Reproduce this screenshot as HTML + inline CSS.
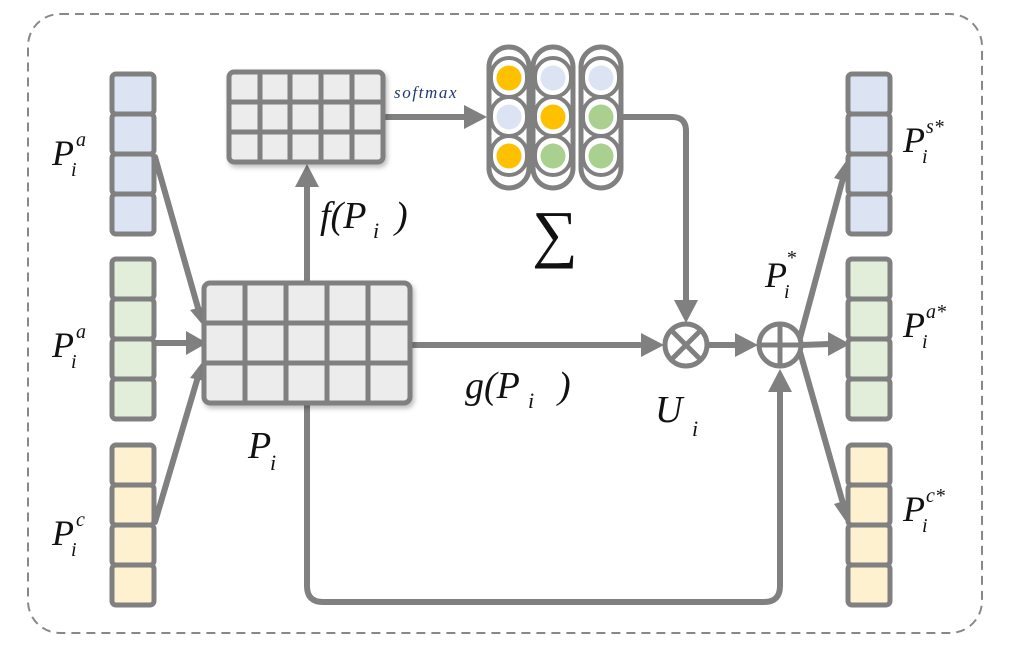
<!DOCTYPE html>
<html><head><meta charset="utf-8"><style>
html,body{margin:0;padding:0;background:#fff;}
svg{display:block}
text{font-family:"Liberation Serif",serif;font-style:italic;fill:#111}
</style></head><body>
<svg width="1022" height="650" viewBox="0 0 1022 650" xmlns="http://www.w3.org/2000/svg">
<defs>
<filter id="sh" x="-10%" y="-10%" width="130%" height="130%"><feDropShadow dx="2" dy="3" stdDeviation="2.5" flood-color="#000" flood-opacity="0.25"/></filter>
</defs>
<rect x="28" y="14" width="954" height="619" rx="32" fill="none" stroke="#888" stroke-width="2" stroke-dasharray="9,6"/>

<g stroke="#808080" stroke-width="6" fill="none" stroke-linecap="round" stroke-linejoin="round">
<line x1="155" y1="157" x2="200" y2="315"/>
<line x1="155" y1="343" x2="190" y2="343"/>
<line x1="155" y1="522" x2="200" y2="370"/>
<line x1="307" y1="282" x2="307" y2="185"/>
<line x1="384" y1="117" x2="468" y2="117"/>
<path d="M620 117 H672 Q686 117 686 131 V300"/>
<line x1="411" y1="345" x2="640" y2="345"/>
<line x1="708" y1="345" x2="740" y2="345"/>
<path d="M307 404 V586 Q307 602 323 602 H764 Q780 602 780 586 V392"/>
<line x1="800" y1="338" x2="842" y2="182"/>
<line x1="802" y1="345" x2="830" y2="344"/>
<line x1="800" y1="352" x2="842" y2="500"/>
</g>
<g fill="#808080">
<polygon points="207,330 190,310 210,305"/>
<polygon points="207,343 186,331 186,355"/>
<polygon points="207,356 190,378 210,382"/>
<polygon points="307,164 295,187 319,187"/>
<polygon points="487,117 464,105 464,129"/>
<polygon points="686,323 674,300 698,300"/>
<polygon points="664,345 641,333 641,357"/>
<polygon points="758,345 735,333 735,357"/>
<polygon points="780,369 768,392 792,392"/>
<polygon points="849,157 834,178 853,184"/>
<polygon points="850,344 828,332 828,356"/>
<polygon points="849,526 834,504 853,498"/>
</g>

<g stroke="#808080" stroke-width="5">
<g fill="#dce3f3">
<rect x="112" y="74" width="42" height="40" rx="4"/><rect x="112" y="114" width="42" height="40" rx="4"/><rect x="112" y="154" width="42" height="40" rx="4"/><rect x="112" y="194" width="42" height="40" rx="4"/>
<rect x="848" y="74" width="42" height="40" rx="4"/><rect x="848" y="114" width="42" height="40" rx="4"/><rect x="848" y="154" width="42" height="40" rx="4"/><rect x="848" y="194" width="42" height="40" rx="4"/>
</g>
<g fill="#e2eed9">
<rect x="112" y="259" width="42" height="40" rx="4"/><rect x="112" y="299" width="42" height="40" rx="4"/><rect x="112" y="339" width="42" height="40" rx="4"/><rect x="112" y="379" width="42" height="40" rx="4"/>
<rect x="848" y="259" width="42" height="40" rx="4"/><rect x="848" y="299" width="42" height="40" rx="4"/><rect x="848" y="339" width="42" height="40" rx="4"/><rect x="848" y="379" width="42" height="40" rx="4"/>
</g>
<g fill="#fdf1cf">
<rect x="112" y="445" width="42" height="40" rx="4"/><rect x="112" y="485" width="42" height="40" rx="4"/><rect x="112" y="525" width="42" height="40" rx="4"/><rect x="112" y="565" width="42" height="40" rx="4"/>
<rect x="848" y="445" width="42" height="40" rx="4"/><rect x="848" y="485" width="42" height="40" rx="4"/><rect x="848" y="525" width="42" height="40" rx="4"/><rect x="848" y="565" width="42" height="40" rx="4"/>
</g>
</g>

<g filter="url(#sh)">
<rect x="229" y="72" width="154" height="90" rx="5" fill="#ececec" stroke="#808080" stroke-width="5"/>
</g>
<g stroke="#808080" stroke-width="5">
<line x1="260" y1="72" x2="260" y2="162"/><line x1="290" y1="72" x2="290" y2="162"/><line x1="321" y1="72" x2="321" y2="162"/><line x1="352" y1="72" x2="352" y2="162"/>
<line x1="229" y1="102" x2="383" y2="102"/><line x1="229" y1="132" x2="383" y2="132"/>
</g>

<g filter="url(#sh)">
<rect x="204" y="283" width="206" height="120" rx="6" fill="#ececec" stroke="#808080" stroke-width="5"/>
</g>
<g stroke="#808080" stroke-width="5">
<line x1="245" y1="283" x2="245" y2="403"/><line x1="286" y1="283" x2="286" y2="403"/><line x1="327" y1="283" x2="327" y2="403"/><line x1="368" y1="283" x2="368" y2="403"/>
<line x1="204" y1="323" x2="410" y2="323"/><line x1="204" y1="363" x2="410" y2="363"/>
</g>

<g stroke="#808080" stroke-width="5" fill="#fff">
<rect x="489" y="47" width="40" height="141" rx="20"/>
<rect x="533" y="47" width="40" height="141" rx="20"/>
<rect x="581" y="47" width="40" height="141" rx="20"/>
<rect x="491" y="58" width="36" height="39" rx="18" fill="none" stroke-width="4"/>
<rect x="491" y="97" width="36" height="39" rx="18" fill="none" stroke-width="4"/>
<rect x="491" y="136" width="36" height="39" rx="18" fill="none" stroke-width="4"/>
<rect x="535" y="58" width="36" height="39" rx="18" fill="none" stroke-width="4"/>
<rect x="535" y="97" width="36" height="39" rx="18" fill="none" stroke-width="4"/>
<rect x="535" y="136" width="36" height="39" rx="18" fill="none" stroke-width="4"/>
<rect x="583" y="58" width="36" height="39" rx="18" fill="none" stroke-width="4"/>
<rect x="583" y="97" width="36" height="39" rx="18" fill="none" stroke-width="4"/>
<rect x="583" y="136" width="36" height="39" rx="18" fill="none" stroke-width="4"/>
</g>
<g>
<circle cx="509" cy="78" r="12.5" fill="#ffc000"/><circle cx="509" cy="117" r="12.5" fill="#dce3f3"/><circle cx="509" cy="156" r="12.5" fill="#ffc000"/>
<circle cx="553" cy="78" r="12.5" fill="#dce3f3"/><circle cx="553" cy="117" r="12.5" fill="#ffc000"/><circle cx="553" cy="156" r="12.5" fill="#a9d08e"/>
<circle cx="601" cy="78" r="12.5" fill="#dce3f3"/><circle cx="601" cy="117" r="12.5" fill="#a9d08e"/><circle cx="601" cy="156" r="12.5" fill="#a9d08e"/>
</g>

<g stroke="#808080" stroke-width="5" fill="#fff">
<circle cx="686" cy="345" r="21"/>
<circle cx="780" cy="345" r="21"/>
</g>
<g stroke="#808080" stroke-width="5">
<line x1="671" y1="330" x2="701" y2="360"/><line x1="701" y1="330" x2="671" y2="360"/>
<line x1="759" y1="345" x2="801" y2="345"/><line x1="780" y1="324" x2="780" y2="366"/>
</g>

<text x="394" y="98" font-size="17" letter-spacing="1.6" style="fill:#1f3a6e">softmax</text>
<text x="320" y="228" font-size="38">f(P</text><text x="373" y="238" font-size="22">i</text><text x="395" y="228" font-size="38">)</text>
<text x="532" y="255" font-size="64" style="font-style:normal">∑</text>
<text x="465" y="398" font-size="38">g(P</text><text x="528" y="408" font-size="22">i</text><text x="558" y="398" font-size="38">)</text>
<text x="655" y="422" font-size="38">U</text><text x="692" y="436" font-size="22">i</text>
<text x="248" y="458" font-size="38">P</text><text x="270" y="470" font-size="22">i</text>
<text x="52" y="165" font-size="36">P</text><text x="76" y="146" font-size="20">a</text><text x="71" y="176" font-size="20">i</text>
<text x="52" y="357" font-size="36">P</text><text x="76" y="338" font-size="20">a</text><text x="71" y="368" font-size="20">i</text>
<text x="52" y="545" font-size="36">P</text><text x="76" y="526" font-size="20">c</text><text x="71" y="556" font-size="20">i</text>
<text x="765" y="287" font-size="36">P</text><text x="786" y="264" font-size="20">*</text><text x="784" y="298" font-size="20">i</text>
<text x="903" y="152" font-size="36">P</text><text x="926" y="133" font-size="20">s*</text><text x="922" y="163" font-size="20">i</text>
<text x="903" y="337" font-size="36">P</text><text x="926" y="318" font-size="20">a*</text><text x="922" y="348" font-size="20">i</text>
<text x="903" y="521" font-size="36">P</text><text x="926" y="502" font-size="20">c*</text><text x="922" y="532" font-size="20">i</text>
</svg>
</body></html>
